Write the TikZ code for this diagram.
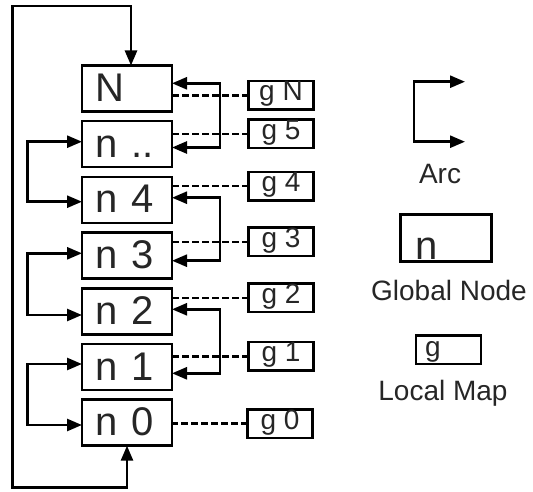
\documentclass[tikz,border=0pt]{standalone}
\usepackage{fontspec}
\setmainfont{Liberation Sans}
\usetikzlibrary{arrows.meta,positioning}

\begin{document}
\begin{tikzpicture}[
  every node/.style={text=black!85},
  gnode/.style={draw, line width=2.6pt, outer sep=0pt, minimum width=90pt, minimum height=46pt,
    inner xsep=13.5pt, inner ysep=0pt, text width=63pt, align=left,
    text height=36pt, text depth=10pt, font=\fontsize{40pt}{44pt}\selectfont},
  lmap/.style={draw, line width=2.6pt, outer sep=0pt, minimum width=65pt, minimum height=28.6pt,
    inner sep=0pt, text height=19.8pt, text depth=8.8pt, font=\fontsize{28pt}{32pt}\selectfont},
  lbl/.style={font=\fontsize{28pt}{32pt}\selectfont, anchor=base},
  arcarr/.style={{Triangle[length=15pt,width=12pt]}-{Triangle[length=15pt,width=12pt]}, line width=2.6pt},
  maplink/.style={dash pattern=on 6.5pt off 3.5pt, line width=2.4pt},
]
\useasboundingbox (0,0) rectangle (533pt,-492pt);

% global nodes
\node[gnode] (N) at (127pt,-88.5pt) {N};
\node[gnode, below=9.7pt of N] (ndots) {n ..};
\node[gnode, below=9.7pt of ndots] (n4) {n 4};
\node[gnode, below=9.7pt of n4] (n3) {n 3};
\node[gnode, below=9.7pt of n3] (n2) {n 2};
\node[gnode, below=9.7pt of n2] (n1) {n 1};
\node[gnode, below=9.7pt of n1] (n0) {n 0};

% local maps
\node[lmap] (gN) at (281pt,-95.5pt) {g N};
\node[lmap] (g5) at (281pt,-133.8pt) {g 5};
\node[lmap] (g4) at (281pt,-186.2pt) {g 4};
\node[lmap] (g3) at (281pt,-241.7pt) {g 3};
\node[lmap] (g2) at (281pt,-297.7pt) {g 2};
\node[lmap] (g1) at (281pt,-356.3pt) {g 1};
\node[lmap] (g0) at (280pt,-423.5pt) {g 0};

\draw[maplink] (gN.west) -- (gN.west -| N.east);
\draw[maplink] (g5.west) -- (g5.west -| ndots.east);
\draw[maplink] (g4.west) -- (g4.west -| n4.east);
\draw[maplink] (g3.west) -- (g3.west -| n3.east);
\draw[maplink] (g2.west) -- (g2.west -| n2.east);
\draw[maplink] (g1.west) -- (g1.west -| n1.east);
\draw[maplink] (g0.west) -- (g0.west -| n0.east);

% arcs
\draw[arcarr] ([yshift=5.2pt]N.east) -- ++(48pt,0) |- ([yshift=-3.3pt]ndots.east);
\draw[arcarr] ([yshift=2.2pt]n4.east) -- ++(48pt,0) |- ([yshift=-5.1pt]n3.east);
\draw[arcarr] ([yshift=2pt]n2.east) -- ++(48pt,0) |- ([yshift=-6.3pt]n1.east);

\draw[arcarr] ([yshift=2.5pt]ndots.west) -- ++(-54.3pt,0) |- ([yshift=-1.8pt]n4.west);
\draw[arcarr] ([yshift=2.3pt]n3.west) -- ++(-54.3pt,0) |- ([yshift=-3.7pt]n2.west);
\draw[arcarr] ([yshift=3pt]n1.west) -- ++(-54.3pt,0) |- ([yshift=-2.3pt]n0.west);

\coordinate (looptop) at (12.7pt,-6pt);
\coordinate (loopbot) at (12.7pt,-487.3pt);
\draw[arcarr] ([xshift=4pt]N.north) |- (looptop) -- (loopbot) -| (n0.south);

% legend
\coordinate (arcA) at (465pt,-81.7pt);
\coordinate (arcB) at (465pt,-141.7pt);
\draw[arcarr] (arcA) -- ++(-51pt,0) |- (arcB);
\node[lbl] (arclbl) at (440pt,-183.3pt) {Arc};

\node[gnode, minimum width=91pt, minimum height=47pt, inner xsep=15pt, text width=61pt,
  text height=44.8pt, text depth=2.2pt] (legnode) at (446pt,-238pt) {n};
\node[lbl] (nodelbl) at (449pt,-300pt) {Global Node};

\node[lmap, inner xsep=9.4pt, text width=46.2pt, align=left,
  text height=21.6pt, text depth=7pt] (legmap) at (448.3pt,-349.5pt) {g};
\node[lbl] (maplbl) at (443pt,-400pt) {Local Map};

\end{tikzpicture}
\end{document}
